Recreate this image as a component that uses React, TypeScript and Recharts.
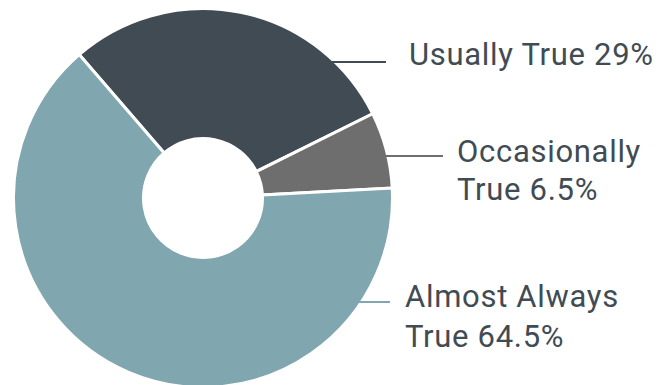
import React from "react";
import { PieChart, Pie, Cell } from "recharts";

const categories = ["Usually True", "Occasionally True", "Almost Always True"];
const values = [29, 6.5, 64.5];
const colors = ["#414b53", "#6e6e6f", "#80a6af"];
const TEXT_COLOR = "#414b53";

// label layout (relative to pie centre): line y, line end x, text x, text baselines, wrap
const labelLayout = [
  { lineDy: -136, lineEndDx: 183, textDx: 206, baselines: [-133], wrap: false },
  { lineDy: -42, lineEndDx: 240, textDx: 254, baselines: [-36, 2], wrap: true },
  { lineDy: 104, lineEndDx: 187, textDx: 202, baselines: [109, 149], wrap: true },
];

const data = categories.map((name, i) => ({ name, value: values[i] }));

const VISIBLE_R = 188;

const renderLabel = (props: any) => {
  const { cx, cy, index, name, value } = props;
  const L = labelLayout[index];
  const ly = cy + L.lineDy;
  const startX = cx + Math.sqrt(VISIBLE_R * VISIBLE_R - L.lineDy * L.lineDy) - 4;
  const endX = cx + L.lineEndDx;
  let lines: string[];
  if (L.wrap) {
    const words = String(name).split(" ");
    const last = words.pop();
    lines = [words.join(" "), `${last} ${value}%`];
  } else {
    lines = [`${name} ${value}%`];
  }
  return (
    <g key={`lbl-${index}`}>
      <line x1={startX} y1={ly} x2={endX} y2={ly} stroke={colors[index]} strokeWidth={2} />
      {lines.map((t, j) => (
        <text
          key={j}
          x={cx + L.textDx}
          y={cy + L.baselines[j]}
          fill={TEXT_COLOR}
          fontSize={31}
          letterSpacing={0.7}
          fontFamily="Roboto, 'Noto Sans', sans-serif"
          textAnchor="start"
        >
          {t}
        </text>
      ))}
    </g>
  );
};

export default function App() {
  return (
    <div style={{ position: "absolute", left: 0, top: 0, width: 668, height: 385, overflow: "hidden", background: "#fff" }}>
      <PieChart width={668} height={385} margin={{ top: 0, right: 0, bottom: 0, left: 0 }}>
        <Pie
          data={data}
          dataKey="value"
          nameKey="name"
          cx={203}
          cy={198}
          innerRadius={59.5}
          outerRadius={189.5}
          startAngle={130.8}
          endAngle={-229.2}
          stroke="#ffffff"
          strokeWidth={3}
          label={renderLabel}
          labelLine={false}
          isAnimationActive={false}
        >
          {data.map((d, i) => (
            <Cell key={d.name} fill={colors[i]} />
          ))}
        </Pie>
      </PieChart>
    </div>
  );
}
